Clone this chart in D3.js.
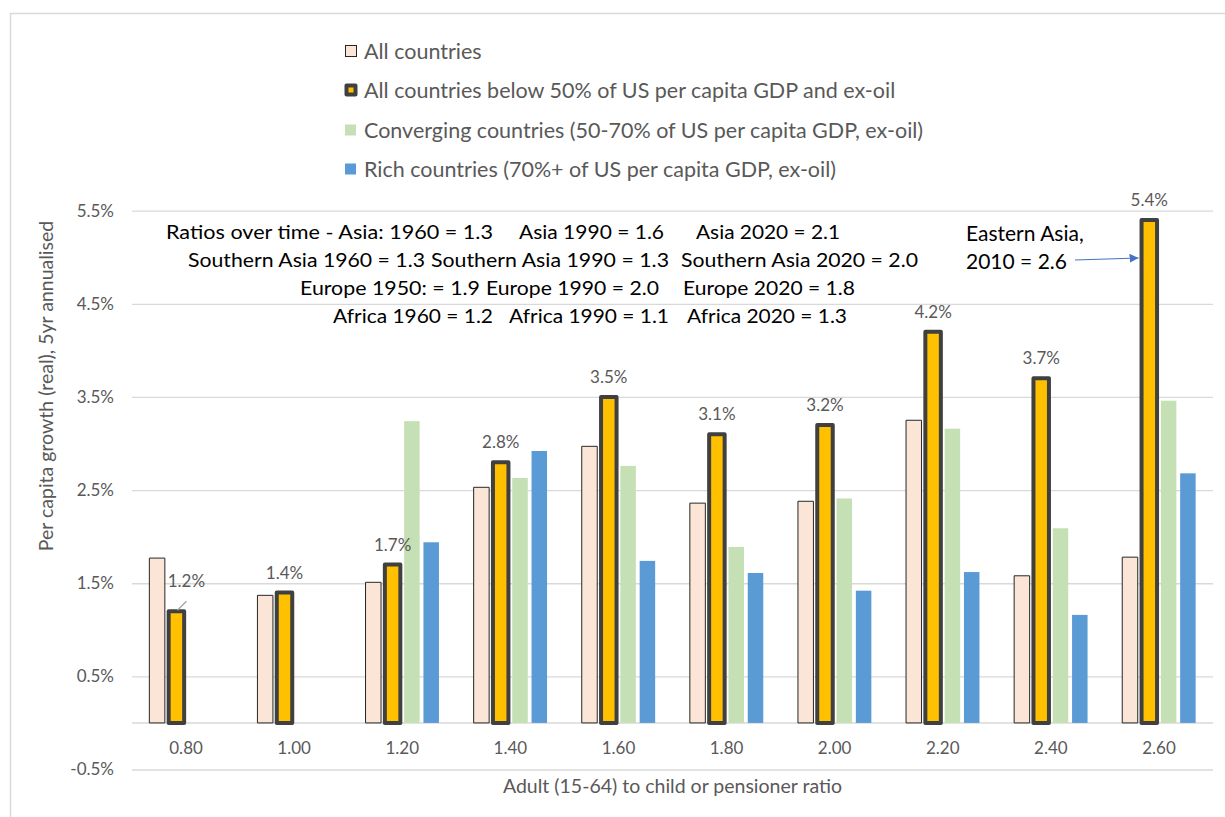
<!DOCTYPE html>
<html>
<head>
<meta charset="utf-8">
<script src="https://cdn.jsdelivr.net/npm/d3@7"></script>
<style>
  body { margin: 0; background: #fff; }
  svg { display: block; }
  text { font-family: Lato, "Liberation Sans", Arial, sans-serif; }
</style>
</head>
<body>
<div id="chart"></div>
<script>
// adult to dependant ratio buckets (x axis)
const ratios = ["0.80", "1.00", "1.20", "1.40", "1.60", "1.80", "2.00", "2.20", "2.40", "2.60"];

// per capita growth, % a year
const allCountries = [1.77, 1.37, 1.51, 2.53, 2.97, 2.36, 2.38, 3.25, 1.58, 1.78];
const below50 = [1.2, 1.4, 1.7, 2.8, 3.5, 3.1, 3.2, 4.2, 3.7, 5.4];
const converging = [null, null, 3.24, 2.63, 2.76, 1.89, 2.41, 3.16, 2.09, 3.46];
const rich = [null, null, 1.94, 2.92, 1.74, 1.61, 1.42, 1.62, 1.16, 2.68];

const yTicks = [-0.5, 0.5, 1.5, 2.5, 3.5, 4.5, 5.5];

const seriesNames = [
    "All countries",
    "All countries below 50% of US per capita GDP and ex-oil",
    "Converging countries (50-70% of US per capita GDP, ex-oil)",
    "Rich countries (70%+ of US per capita GDP, ex-oil)"
];

// the text box in the top left of the plot
const noteLines = [
    ["Ratios over time - Asia: 1960 = 1.3", "Asia 1990 = 1.6", "Asia 2020 = 2.1"],
    ["Southern Asia 1960 = 1.3", "Southern Asia 1990 = 1.3", "Southern Asia 2020 = 2.0"],
    ["Europe 1950: = 1.9", "Europe 1990 = 2.0", "Europe 2020 = 1.8"],
    ["Africa 1960 = 1.2", "Africa 1990 = 1.1", "Africa 2020 = 1.3"]
];
const callout = ["Eastern Asia,", "2010 = 2.6"];

const width = 1225, height = 817;
const grey = "#595959", grid = "#D9D9D9", dark = "#404040";
const pct = d => d.toFixed(1) + "%";

const svg = d3.select("#chart").append("svg")
    .attr("width", width)
    .attr("height", height);

//outer chart frame
svg.append("rect")
    .attr("x", 10.5).attr("y", 13.5)
    .attr("width", 1240).attr("height", 830)
    .attr("fill", "none")
    .attr("stroke", grid)
    .attr("stroke-width", 1.5);

let x = d3.scaleBand()
    .domain(ratios)
    .range([132, 1213]);

let xs = d3.scaleBand()
    .domain(d3.range(4))
    .range([0, x.bandwidth()])
    .paddingOuter(0.8);

let y = d3.scaleLinear()
    .domain([-0.5, 5.5])
    .range([769.5, 210.7]);

//gridlines + y labels
let yAxis = d3.axisLeft(y)
    .tickValues(yTicks)
    .tickSize(-(1213 - 132))
    .tickPadding(18)
    .tickFormat(pct);

let gy = svg.append("g")
    .attr("transform", "translate(132,0)")
    .call(yAxis);
gy.select(".domain").remove();
gy.selectAll(".tick line").attr("stroke", grid).attr("stroke-width", 1.3);
gy.selectAll(".tick text")
    .attr("fill", grey)
    .style("font-size", "17px");

//zero line (category axis)
svg.append("line")
    .attr("x1", 132).attr("x2", 1213)
    .attr("y1", y(0)).attr("y2", y(0))
    .attr("stroke", grid)
    .attr("stroke-width", 1.5);

//x labels
let xAxis = d3.axisBottom(x).tickSize(0).tickPadding(0);
let gx = svg.append("g")
    .attr("transform", "translate(0," + 754 + ")")
    .call(xAxis);
gx.select(".domain").remove();
gx.selectAll(".tick text")
    .attr("fill", grey)
    .attr("dy", "0")
    .style("font-size", "17px");

//axis titles
svg.append("text")
    .attr("x", x.range()[0] + (x.range()[1] - x.range()[0]) / 2)
    .attr("y", 793)
    .attr("text-anchor", "middle")
    .attr("fill", grey)
    .style("font-size", "19.5px")
    .text("Adult (15-64) to child or pensioner ratio");

svg.append("text")
    .attr("transform", "translate(53,386) rotate(-90)")
    .attr("text-anchor", "middle")
    .attr("fill", grey)
    .style("font-size", "19.5px")
    .text("Per capita growth (real), 5yr annualised");

//bars
let barW = 15.5;
let series = [
    {values: allCountries, fill: "#FBE5D6", stroke: "#262626", sw: 1},
    {values: below50, fill: "#FFC000", stroke: dark, sw: 4},
    {values: converging, fill: "#C5E0B4", stroke: "none", sw: 0},
    {values: rich, fill: "#5B9BD5", stroke: "none", sw: 0}
];

series.forEach(function(s, i) {
    let rows = ratios.map((r, j) => ({r: r, v: s.values[j]})).filter(d => d.v !== null);
    svg.append("g").selectAll("rect")
        .data(rows)
        .join("rect")
        .attr("x", d => x(d.r) + xs(i) + (xs.bandwidth() - barW) / 2)
        .attr("y", d => y(d.v))
        .attr("width", barW)
        .attr("height", d => y(0) - y(d.v))
        .attr("fill", s.fill)
        .attr("stroke", s.stroke)
        .attr("stroke-width", s.sw)
        .attr("stroke-linejoin", "round");
});

//data labels on the yellow series
let labelRows = ratios.map((r, j) => ({r: r, v: below50[j], i: j}));
svg.append("g").selectAll("text")
    .data(labelRows)
    .join("text")
    .attr("x", d => x(d.r) + xs(1) + xs.bandwidth() / 2 + (d.i === 0 ? 10 : 0))
    .attr("y", d => y(d.v) - (d.i === 0 ? 24 : 14))
    .attr("text-anchor", "middle")
    .attr("fill", grey)
    .style("font-size", "17px")
    .text(d => pct(d.v));

//leader line for the first label
let lx = x(ratios[0]) + xs(1) + xs.bandwidth() / 2;
svg.append("line")
    .attr("x1", lx + 10).attr("y1", y(below50[0]) - 10)
    .attr("x2", lx + 1).attr("y2", y(below50[0]) - 1)
    .attr("stroke", "#A6A6A6")
    .attr("stroke-width", 1.3);

//legend
let legend = svg.append("g").attr("transform", "translate(345,0)");
let legendY = [51, 90, 130, 169];
seriesNames.forEach(function(name, i) {
    let row = legend.append("g").attr("transform", "translate(0," + legendY[i] + ")");
    if (i === 0) {
        row.append("rect").attr("x", 0.5).attr("y", -5.5).attr("width", 11).attr("height", 11)
            .attr("fill", "#FBE5D6").attr("stroke", "#262626").attr("stroke-width", 1);
    } else if (i === 1) {
        row.append("rect").attr("x", -0.5).attr("y", -6.5).attr("width", 13).attr("height", 13)
            .attr("rx", 2).attr("fill", dark);
        row.append("rect").attr("x", 3.5).attr("y", -2.5).attr("width", 5).attr("height", 5)
            .attr("fill", "#FFC000");
    } else {
        row.append("rect").attr("x", 0).attr("y", -5.5).attr("width", 11).attr("height", 11)
            .attr("fill", series[i].fill);
    }
    row.append("text")
        .attr("x", 19)
        .attr("y", 7.5)
        .attr("fill", grey)
        .style("font-size", "21.5px")
        .text(name);
});

//annotation text box
let noteX = [[166, 519, 696], [188, 431, 681], [300, 486, 683], [333, 509, 687]];
let noteW = [[327, 145, 144], [237, 238, 237], [180, 173, 172], [160, 160, 160]];
let noteY = [239, 267, 295, 323];
let note = svg.append("g");
noteLines.forEach(function(line, i) {
    line.forEach(function(seg, k) {
        note.append("text")
            .attr("x", noteX[i][k])
            .attr("y", noteY[i])
            .attr("fill", "#000")
            .attr("textLength", noteW[i][k])
            .attr("lengthAdjust", "spacingAndGlyphs")
            .style("font-size", "19.5px")
            .text(seg);
    });
});

//callout for Eastern Asia with arrow
svg.append("defs").append("marker")
    .attr("id", "arrow")
    .attr("viewBox", "0 0 10 10")
    .attr("refX", 10).attr("refY", 5)
    .attr("markerWidth", 9).attr("markerHeight", 9)
    .attr("markerUnits", "userSpaceOnUse")
    .attr("orient", "auto")
    .append("path")
    .attr("d", "M0,0L10,5L0,10Z")
    .attr("fill", "#4472C4");

svg.selectAll(".callout")
    .data(callout)
    .join("text")
    .attr("class", "callout")
    .attr("x", 966)
    .attr("y", (d, i) => 241 + i * 28)
    .attr("fill", "#000")
    .style("font-size", "21px")
    .text(d => d);

let tipX = x(ratios[9]) + xs(1) + (xs.bandwidth() - barW) / 2 - 3;
svg.append("line")
    .attr("x1", 1075).attr("y1", 260)
    .attr("x2", tipX).attr("y2", 258)
    .attr("stroke", "#4472C4")
    .attr("stroke-width", 1)
    .attr("marker-end", "url(#arrow)");
</script>
</body>
</html>
